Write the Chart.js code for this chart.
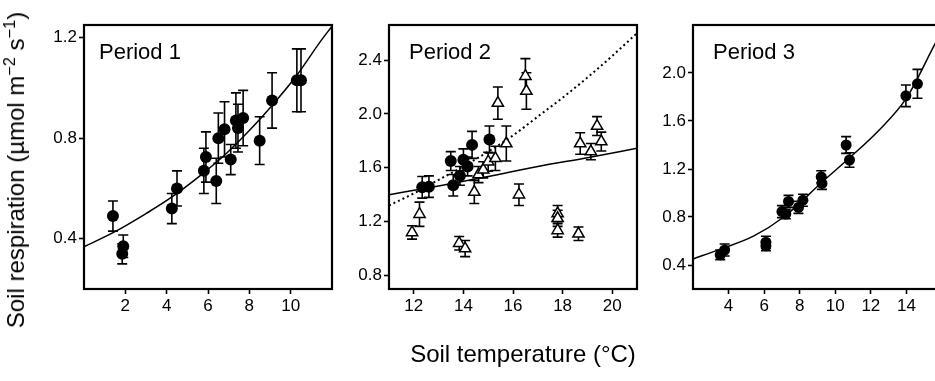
<!DOCTYPE html>
<html><head><meta charset="utf-8">
<script src="https://cdn.jsdelivr.net/npm/chart.js@4.4.1/dist/chart.umd.min.js"></script>
<style>
html,body{margin:0;padding:0;background:#fff;overflow:hidden;width:935px;height:381px;}
#wrap{position:relative;width:935px;height:381px;overflow:hidden;background:#fff;}
canvas{position:absolute;top:0;}
.lbl{position:absolute;font-family:"Liberation Sans",Arial,sans-serif;color:#000;white-space:nowrap;line-height:1;}
.lbl sup{font-size:0.68em;vertical-align:0.55em;line-height:0;}
</style></head><body>
<div id="wrap">
<canvas id="c1" width="345" height="381" style="left:0px;width:345px;height:381px"></canvas>
<canvas id="c2" width="310" height="381" style="left:340px;width:310px;height:381px"></canvas>
<canvas id="c3" width="300" height="381" style="left:650px;width:300px;height:381px"></canvas>
<div class="lbl" style="left:99px;top:41px;font-size:22px">Period 1</div>
<div class="lbl" style="left:409px;top:41px;font-size:22px">Period 2</div>
<div class="lbl" style="left:713px;top:41px;font-size:22px">Period 3</div>
<div class="lbl" style="left:523px;top:354px;font-size:24px;transform:translate(-50%,-50%)">Soil temperature (°C)</div>
<div class="lbl" style="left:16px;top:170px;font-size:24px;transform:translate(-50%,-50%) rotate(-90deg)">Soil respiration (µmol m<sup>−2</sup> s<sup>−1</sup>)</div>
</div>
<script>
// ---------- Period 1 ----------
const p1Temp = [1.4, 1.9, 1.85, 4.25, 4.5, 5.8, 5.9, 6.4, 6.5, 6.8, 7.1, 7.35, 7.45, 7.7, 8.5, 9.1, 10.3, 10.5];
const p1Resp = [0.49, 0.37, 0.34, 0.52, 0.60, 0.67, 0.725, 0.63, 0.80, 0.835, 0.715, 0.87, 0.84, 0.88, 0.79, 0.95, 1.03, 1.03];
const p1Err  = [0.06, 0.045, 0.04, 0.06, 0.07, 0.09, 0.10, 0.09, 0.10, 0.11, 0.06, 0.11, 0.095, 0.11, 0.095, 0.11, 0.125, 0.125];
const p1FitT = [0, 1.5, 3, 4.15, 5.76, 6.9, 8, 9.1, 10.3, 11.4, 12];
const p1FitR = [0.368, 0.428, 0.50, 0.56, 0.66, 0.74, 0.83, 0.93, 1.05, 1.18, 1.245];
const p1XTicks = [2, 4, 6, 8, 10];
const p1YTicks = [0.4, 0.8, 1.2];

// ---------- Period 2 ----------
const p2CircT = [12.34, 12.61, 13.49, 13.59, 13.86, 14.0, 14.17, 14.35, 15.05];
const p2CircR = [1.455, 1.46, 1.65, 1.47, 1.54, 1.66, 1.61, 1.77, 1.81];
const p2CircE = [0.08, 0.08, 0.07, 0.08, 0.07, 0.08, 0.07, 0.10, 0.10];
const p2TriT = [11.93, 12.23, 13.83, 14.07, 14.44, 14.61, 14.8, 15.0, 15.29, 15.39, 15.73, 16.24, 16.5, 16.54, 17.8, 17.8, 17.8, 18.64, 18.71, 19.14, 19.39, 19.56];
const p2TriR = [1.12, 1.255, 1.04, 1.0, 1.42, 1.55, 1.585, 1.645, 1.67, 2.08, 1.78, 1.40, 2.28, 2.17, 1.26, 1.225, 1.135, 1.11, 1.78, 1.72, 1.91, 1.795];
const p2TriE = [0.05, 0.09, 0.05, 0.06, 0.085, 0.06, 0.06, 0.07, 0.09, 0.12, 0.13, 0.08, 0.13, 0.135, 0.06, 0.06, 0.05, 0.05, 0.08, 0.06, 0.07, 0.07];
const p2SolidT = [11, 13, 15, 17, 19, 21];
const p2SolidR = [1.40, 1.465, 1.535, 1.61, 1.675, 1.745];
const p2DotT = [11, 12, 13, 14, 15, 16, 17, 18, 19, 20, 21];
const p2DotR = [1.32, 1.41, 1.51, 1.61, 1.72, 1.84, 1.98, 2.12, 2.27, 2.43, 2.60];
const p2XTicks = [12, 14, 16, 18, 20];
const p2YTicks = [0.8, 1.2, 1.6, 2.0, 2.4];

// ---------- Period 3 ----------
const p3Temp = [3.53, 3.78, 6.1, 6.1, 7.0, 7.22, 7.37, 7.93, 8.18, 9.21, 9.25, 10.61, 10.8, 13.97, 14.62];
const p3Resp = [0.485, 0.525, 0.59, 0.56, 0.845, 0.825, 0.93, 0.88, 0.94, 1.135, 1.08, 1.40, 1.275, 1.81, 1.91];
const p3Err  = [0.04, 0.05, 0.05, 0.04, 0.05, 0.04, 0.05, 0.05, 0.05, 0.05, 0.05, 0.07, 0.06, 0.09, 0.12];
const p3FitT = [2, 3.5, 5.4, 7.1, 9.25, 10.85, 12.5, 14, 15.6, 16];
const p3FitR = [0.45, 0.53, 0.64, 0.80, 1.09, 1.30, 1.53, 1.79, 2.24, 2.35];
const p3XTicks = [4, 6, 8, 10, 12, 14];
const p3YTicks = [0.4, 0.8, 1.2, 1.6, 2.0];

const FONT = "'Liberation Sans', Arial, Helvetica, sans-serif";
const pts = (xs, ys) => xs.map((x, i) => ({x: x, y: ys[i]}));

const errorBars = {
  id: 'errorBars',
  beforeDatasetsDraw(chart) {
    const ctx = chart.ctx, xs = chart.scales.x, ys = chart.scales.y;
    ctx.save();
    ctx.strokeStyle = '#000';
    ctx.lineWidth = 1.6;
    chart.data.datasets.forEach(ds => {
      if (!ds.errors) return;
      ds.data.forEach((p, j) => {
        const e = ds.errors[j];
        const px = xs.getPixelForValue(p.x);
        const yt = ys.getPixelForValue(p.y + e);
        const yb = ys.getPixelForValue(p.y - e);
        ctx.beginPath();
        ctx.moveTo(px, yt); ctx.lineTo(px, yb);
        ctx.moveTo(px - 5, yt); ctx.lineTo(px + 5, yt);
        ctx.moveTo(px - 5, yb); ctx.lineTo(px + 5, yb);
        ctx.stroke();
      });
    });
    ctx.restore();
  }
};
const frame = {
  id: 'frame',
  afterDraw(chart) {
    const a = chart.chartArea, ctx = chart.ctx;
    ctx.save();
    ctx.strokeStyle = '#000';
    ctx.lineWidth = 2.2;
    ctx.strokeRect(a.left, a.top, a.right - a.left, a.bottom - a.top);
    ctx.restore();
  }
};

function axis(min, max, ticks, isY, fitSize, fmt) {
  return {
    type: 'linear', min: min, max: max,
    border: {display: false},
    grid: {display: true, drawOnChartArea: false, drawTicks: true, tickLength: 5, tickColor: '#000', tickWidth: 1.6},
    ticks: {color: '#000', font: {family: FONT, size: 17}, padding: isY ? 2 : 2, autoSkip: false, maxRotation: 0, callback: fmt},
    afterBuildTicks: s => { s.ticks = ticks.map(v => ({value: v})); },
    afterFit: s => { if (isY) s.width = fitSize; else s.height = fitSize; }
  };
}
const fmtY = v => Number(v).toFixed(1);
const fmtX = v => String(v);

function make(id, datasets, xr, yr, xt, yt, yW, padR) {
  return new Chart(document.getElementById(id), {
    type: 'scatter',
    data: {datasets: datasets},
    options: {
      responsive: false, animation: false, devicePixelRatio: 1,
      layout: {padding: {top: 25, right: padR, left: 0, bottom: 0}},
      plugins: {legend: {display: false}, tooltip: {enabled: false}},
      scales: {
        x: axis(xr[0], xr[1], xt, false, 92, fmtX),
        y: axis(yr[0], yr[1], yt, true, yW, fmtY)
      }
    },
    plugins: [errorBars, frame]
  });
}

const lineDs = (xs, ys, dash) => ({
  data: pts(xs, ys), showLine: true, pointRadius: 0, borderColor: '#000',
  borderWidth: dash ? 2 : 1.5, borderDash: dash || [], cubicInterpolationMode: 'monotone', fill: false
});
const circDs = (xs, ys, es, r) => ({
  data: pts(xs, ys), errors: es, pointStyle: 'circle', pointRadius: r,
  backgroundColor: '#000', borderColor: '#000', borderWidth: 0, showLine: false
});
const triDs = (xs, ys, es) => ({
  data: pts(xs, ys), errors: es, pointStyle: 'triangle', pointRadius: 6.5,
  backgroundColor: '#fff', borderColor: '#000', borderWidth: 1.5, showLine: false
});

make('c1', [lineDs(p1FitT, p1FitR), circDs(p1Temp, p1Resp, p1Err, 6)],
     [0, 12], [0.2, 1.25], p1XTicks, p1YTicks, 84, 13);
make('c2', [lineDs(p2SolidT, p2SolidR), lineDs(p2DotT, p2DotR, [2, 3]),
            triDs(p2TriT, p2TriR, p2TriE), circDs(p2CircT, p2CircR, p2CircE, 6)],
     [11, 21], [0.7, 2.66], p2XTicks, p2YTicks, 49, 13);
make('c3', [lineDs(p3FitT, p3FitR), circDs(p3Temp, p3Resp, p3Err, 5.5)],
     [2, 16], [0.2, 2.4], p3XTicks, p3YTicks, 43, 8);
</script>
</body></html>
